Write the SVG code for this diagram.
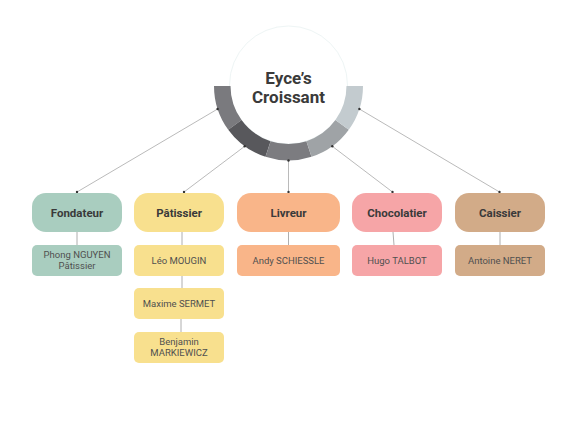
<svg xmlns="http://www.w3.org/2000/svg" width="577" height="433" viewBox="0 0 577 433">
<style>
.head{font-family:Roboto,"Liberation Sans",sans-serif;font-weight:bold;font-size:11.5px;fill:#3a3a3a;text-anchor:middle}
.sub{font-family:Roboto,"Liberation Sans",sans-serif;font-size:9.5px;fill:#505050;text-anchor:middle}
.title{font-family:Roboto,"Liberation Sans",sans-serif;font-weight:bold;font-size:17px;fill:#3a3a3a;text-anchor:middle}
.ln{stroke:#8c8c8c;stroke-width:0.6;fill:none}
.vl{stroke:#9a9a9a;stroke-width:0.8;fill:none}
.dot{fill:#333}
.c1{fill:#a9cdbf}.c2{fill:#f8e08e}.c3{fill:#f9b589}.c4{fill:#f6a5a7}.c5{fill:#d2ab88}
</style>
<rect width="577" height="433" fill="#ffffff"/>
<g id="center">
<circle cx="288.5" cy="85" r="59" fill="#ffffff" stroke="#eef5f5" stroke-width="1"/>
<path d="M214 86 A74.5 74.5 0 0 0 228.23 129.79 L241.58 120.09 A58 58 0 0 1 230.5 86 Z" fill="#7a7a7e"/>
<path d="M228.23 129.79 A74.5 74.5 0 0 0 265.48 156.86 L270.58 141.16 A58 58 0 0 1 241.58 120.09 Z" fill="#58585c"/>
<path d="M265.48 156.86 A74.5 74.5 0 0 0 311.52 156.86 L306.42 141.16 A58 58 0 0 1 270.58 141.16 Z" fill="#7c7c80"/>
<path d="M311.52 156.86 A74.5 74.5 0 0 0 348.77 129.79 L335.42 120.09 A58 58 0 0 1 306.42 141.16 Z" fill="#9fa3a6"/>
<path d="M348.77 129.79 A74.5 74.5 0 0 0 363 86 L346.5 86 A58 58 0 0 1 335.42 120.09 Z" fill="#c3cbcf"/>
<text class="title" x="288.5" y="84">Eyce’s</text>
<text class="title" x="288.5" y="103">Croissant</text>
</g>
<g id="connectors">
<line class="ln" x1="217.6" y1="109" x2="77" y2="192"/>
<line class="ln" x1="244.7" y1="146.3" x2="184" y2="192"/>
<line class="ln" x1="288.5" y1="160.5" x2="288.5" y2="192"/>
<line class="ln" x1="332.3" y1="146.3" x2="392.5" y2="192"/>
<line class="ln" x1="359.4" y1="109" x2="499.5" y2="192"/>
<circle class="dot" cx="217.6" cy="109" r="1.2"/><circle class="dot" cx="77" cy="192" r="1.2"/>
<circle class="dot" cx="244.7" cy="146.3" r="1.2"/><circle class="dot" cx="184" cy="192" r="1.2"/>
<circle class="dot" cx="288.5" cy="160.5" r="1.2"/><circle class="dot" cx="288.5" cy="192" r="1.2"/>
<circle class="dot" cx="332.3" cy="146.3" r="1.2"/><circle class="dot" cx="392.5" cy="192" r="1.2"/>
<circle class="dot" cx="359.4" cy="109" r="1.2"/><circle class="dot" cx="499.5" cy="192" r="1.2"/>
<line class="vl" x1="77" y1="232" x2="77" y2="245"/>
<line class="vl" x1="182" y1="232" x2="182" y2="245"/>
<line class="vl" x1="182" y1="276" x2="182" y2="288"/>
<line class="vl" x1="181" y1="319" x2="181" y2="332"/>
<line class="vl" x1="288.5" y1="232" x2="288.5" y2="245"/>
<line class="vl" x1="393" y1="232" x2="394" y2="245"/>
<line class="vl" x1="500" y1="232" x2="500" y2="245"/>
</g>
<g id="fondateur">
<rect class="c1" x="32" y="193" width="90" height="39" rx="14"/>
<text class="head" x="77" y="216.5">Fondateur</text>
</g>
<g id="phong">
<rect class="c1" x="32" y="245" width="90" height="31" rx="5"/>
<text class="sub" x="77" y="257.5">Phong NGUYEN</text>
<text class="sub" x="77" y="268.5">Pâtissier</text>
</g>
<g id="patissier">
<rect class="c2" x="134" y="193" width="90" height="39" rx="14"/>
<text class="head" x="179" y="216.5">Pâtissier</text>
</g>
<g id="leo">
<rect class="c2" x="134" y="245" width="90" height="31" rx="5"/>
<text class="sub" x="179" y="263.5">Léo MOUGIN</text>
</g>
<g id="maxime">
<rect class="c2" x="134" y="288" width="90" height="31" rx="5"/>
<text class="sub" x="179" y="306.5">Maxime SERMET</text>
</g>
<g id="benjamin">
<rect class="c2" x="134" y="332" width="90" height="31" rx="5"/>
<text class="sub" x="179" y="344.5">Benjamin</text>
<text class="sub" x="179" y="356">MARKIEWICZ</text>
</g>
<g id="livreur">
<rect class="c3" x="237" y="193" width="103" height="39" rx="14"/>
<text class="head" x="288.5" y="216.5">Livreur</text>
</g>
<g id="andy">
<rect class="c3" x="237" y="245" width="103" height="31" rx="5"/>
<text class="sub" x="288.5" y="263.5">Andy SCHIESSLE</text>
</g>
<g id="chocolatier">
<rect class="c4" x="352" y="193" width="90" height="39" rx="14"/>
<text class="head" x="397" y="216.5">Chocolatier</text>
</g>
<g id="hugo">
<rect class="c4" x="352" y="245" width="90" height="31" rx="5"/>
<text class="sub" x="397" y="263.5">Hugo TALBOT</text>
</g>
<g id="caissier">
<rect class="c5" x="455" y="193" width="90" height="39" rx="14"/>
<text class="head" x="500" y="216.5">Caissier</text>
</g>
<g id="antoine">
<rect class="c5" x="455" y="245" width="90" height="31" rx="5"/>
<text class="sub" x="500" y="263.5">Antoine NERET</text>
</g>
</svg>
